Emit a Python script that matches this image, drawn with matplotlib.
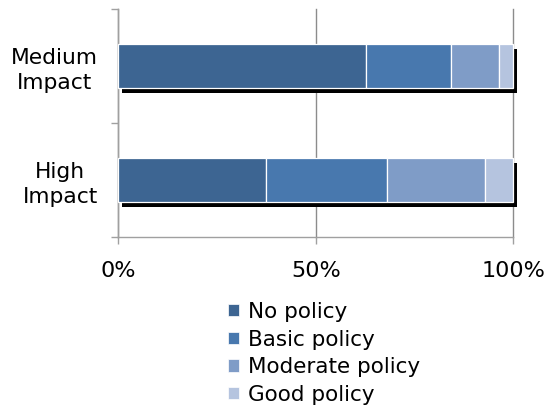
import matplotlib
matplotlib.use("Agg")
import matplotlib.pyplot as plt
import matplotlib.patheffects as pe
from matplotlib.patches import Patch
from matplotlib.ticker import FixedLocator, PercentFormatter
import numpy as np

# categories, bottom to top
categories = ["High\nImpact", "Medium\nImpact"]
series = ["No policy", "Basic policy", "Moderate policy", "Good policy"]
no_policy = [37.3, 62.7]
basic_policy = [30.6, 21.6]
moderate_policy = [24.9, 12.1]
good_policy = [7.2, 3.6]
colors = ["#3d6592", "#4878ae", "#7f9cc7", "#b5c4df"]
xticks = [0, 50, 100]

fig = plt.figure(figsize=(5.57, 4.12), dpi=100)
ax = fig.add_axes([0.2127, 0.4248, 0.7088, 0.5534])

y = np.arange(len(categories))
left = np.zeros(len(categories))
shadow = [pe.SimplePatchShadow(offset=(2.4, -3.6), shadow_rgbFace="black", alpha=1.0), pe.Normal()]
for name, vals, c in zip(series, [no_policy, basic_policy, moderate_policy, good_policy], colors):
    bars = ax.barh(y, vals, left=left, height=0.39, color=c, edgecolor="white", linewidth=0.9,
                   zorder=3, path_effects=shadow)
    for b in bars:
        b.set_clip_on(False)
    left += np.array(vals)

ax.set_xlim(0, 100)
ax.set_ylim(-0.5, 1.5)
ax.set_xticks(xticks)
ax.xaxis.set_major_formatter(PercentFormatter(decimals=0))
ax.set_yticks(y)
ax.set_yticklabels(categories, multialignment="center", fontsize=15.7, linespacing=1.3)
ax.yaxis.set_minor_locator(FixedLocator([-0.5, 0.5, 1.5]))
ax.tick_params(axis="y", which="major", length=0, pad=15)
ax.tick_params(axis="y", which="minor", length=5, color="#a0a0a0", width=1)
ax.tick_params(axis="x", length=5, color="#a0a0a0", width=1, labelsize=16, pad=12)

ax.grid(axis="x", color="#8c8c8c", linewidth=1, zorder=0)
ax.set_axisbelow(True)
for line in ax.get_xgridlines():
    line.set_clip_on(False)
for s in ["top", "right"]:
    ax.spines[s].set_visible(False)
for s in ["left", "bottom"]:
    ax.spines[s].set_color("#a0a0a0")
    ax.spines[s].set_linewidth(1)

handles = [Patch(facecolor=c, edgecolor="white", linewidth=0.5) for c in colors]
ax.legend(handles, series, loc="upper left", bbox_to_anchor=(228 / 557, 1 - 302 / 412),
          bbox_transform=fig.transFigure, frameon=False, fontsize=15.5, handlelength=0.5,
          handleheight=0.5, handletextpad=0.42, labelspacing=0.35, borderpad=0, borderaxespad=0)

fig.savefig("out.png", dpi=100)
